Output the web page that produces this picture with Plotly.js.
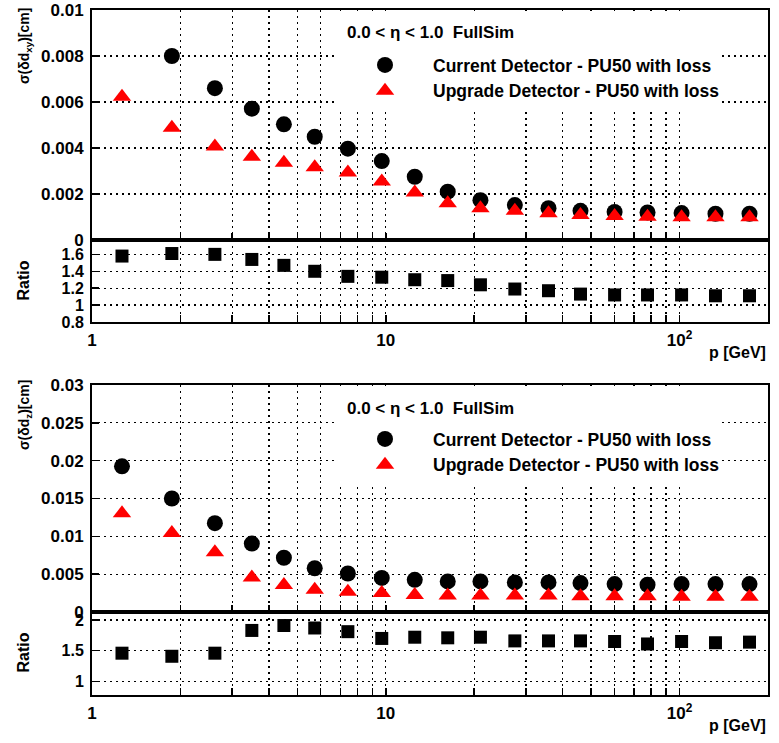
<!DOCTYPE html>
<html>
<head>
<meta charset="utf-8">
<script src="https://cdn.plot.ly/plotly-3.0.1.min.js"></script>
<style>html,body{margin:0;padding:0;background:#fff}#chart{width:779px;height:743px}</style>
</head>
<body>
<div id="chart"></div>
<script>
// ---- data ----
const p = [1.265, 1.87, 2.62, 3.50, 4.50, 5.73, 7.43, 9.69, 12.55, 16.25, 21.0, 27.5, 35.8, 46.0, 60.1, 77.8, 101.6, 132.5, 173];

const dxyCurrent = [null, 0.0080, 0.0066, 0.00571, 0.00503, 0.00449, 0.00397, 0.00343, 0.00275, 0.0021, 0.00173, 0.00152, 0.00138, 0.00127, 0.00122, 0.0012, 0.00117, 0.00114, 0.00114];
const dxyUpgrade = [0.00623, 0.00488, 0.00406, 0.00362, 0.00336, 0.00316, 0.00293, 0.00254, 0.00206, 0.0016, 0.00138, 0.00127, 0.00116, 0.00109, 0.00104, 0.00101, 0.00099, 0.00099, 0.00099];
const dxyRatio = [1.58, 1.61, 1.60, 1.54, 1.47, 1.40, 1.34, 1.33, 1.30, 1.29, 1.24, 1.19, 1.17, 1.13, 1.12, 1.12, 1.12, 1.11, 1.11];

const dzCurrent = [0.01925, 0.0150, 0.01174, 0.00904, 0.00717, 0.00578, 0.00509, 0.00450, 0.00425, 0.00404, 0.00404, 0.00391, 0.00391, 0.00382, 0.00369, 0.0036, 0.00369, 0.00369, 0.00369];
const dzUpgrade = [0.01304, 0.01043, 0.0079, 0.00456, 0.00356, 0.00295, 0.00269, 0.00252, 0.00226, 0.00217, 0.00217, 0.00217, 0.00217, 0.00209, 0.00209, 0.00209, 0.0020, 0.0020, 0.0020];
const dzRatio = [1.46, 1.41, 1.46, 1.83, 1.91, 1.87, 1.81, 1.70, 1.72, 1.71, 1.72, 1.66, 1.66, 1.66, 1.65, 1.61, 1.65, 1.63, 1.64];

const nameCurrent = "Current Detector - PU50 with loss";
const nameUpgrade = "Upgrade Detector - PU50 with loss";
const regionLabel = "0.0 < η < 1.0  FullSim";

const xGridVals = [1,2,3,4,5,6,7,8,9,10,20,30,40,50,60,70,80,90,100,200];
const xGridText = ["1","","","","","","","","","10","","","","","","","","","10<sup>2</sup>",""];
const yTopVals = [0, 0.002, 0.004, 0.006, 0.008, 0.01];
const yTopText = ["0", "0.002", "0.004", "0.006", "0.008", "0.01"];
const rTopVals = [0.8, 1, 1.2, 1.4, 1.6];
const rTopText = ["0.8", "1", "1.2", "1.4", "1.6"];
const yBotVals = [0, 0.005, 0.01, 0.015, 0.02, 0.025, 0.03];
const yBotText = ["0", "0.005", "0.01", "0.015", "0.02", "0.025", "0.03"];
const rBotVals = [1, 1.5, 2];
const rBotText = ["1", "1.5", "2"];

// ---- styling ----
const FONT = "Liberation Sans, Arial, sans-serif";
const tickFont = {family: FONT, size: 17, color: "#000", weight: "bold"};
const gridCommon = {
  showgrid: true, gridcolor: "#000", gridwidth: 1.3, griddash: "2px,4px",
  showline: true, linecolor: "#000", linewidth: 2, mirror: true,
  ticks: "inside", ticklen: 7, tickwidth: 1.5, tickcolor: "#000",
  zeroline: false, tickfont: tickFont
};
function xAxis(anchor, labels) {
  return Object.assign({}, gridCommon, {
    type: "log", range: [0, Math.log10(200)], anchor: anchor, domain: [0, 1],
    tickmode: "array", tickvals: xGridVals, ticktext: xGridText,
    showticklabels: labels, ticklabelstandoff: 2
  });
}
function yAxis(domain, range, vals, text, size) {
  return Object.assign({}, gridCommon, {
    domain: domain, range: range, tickmode: "array", tickvals: vals, ticktext: text,
    tickfont: Object.assign({}, tickFont, {size: size}), ticklabelstandoff: 3
  });
}

const circ = {symbol: "circle", size: 16, color: "#000"};
const tri = {symbol: "triangle-up", size: 16, color: "#ff0000"};
const sq = {symbol: "square", size: 13, color: "#000"};

const traces = [
  {x: p, y: dxyCurrent, type: "scatter", mode: "markers", name: nameCurrent, marker: circ, xaxis: "x", yaxis: "y", legend: "legend"},
  {x: p, y: dxyUpgrade, type: "scatter", mode: "markers", name: nameUpgrade, marker: tri, xaxis: "x", yaxis: "y", legend: "legend"},
  {x: p, y: dxyRatio, type: "scatter", mode: "markers", name: "Ratio", marker: sq, xaxis: "x2", yaxis: "y2", showlegend: false},
  {x: p, y: dzCurrent, type: "scatter", mode: "markers", name: nameCurrent, marker: circ, xaxis: "x3", yaxis: "y3", legend: "legend2"},
  {x: p, y: dzUpgrade, type: "scatter", mode: "markers", name: nameUpgrade, marker: tri, xaxis: "x3", yaxis: "y3", legend: "legend2"},
  {x: p, y: dzRatio, type: "scatter", mode: "markers", name: "Ratio", marker: sq, xaxis: "x4", yaxis: "y4", showlegend: false}
];

// plot area spans y = 10 .. 695 px
const py = v => (695 - v) / 685;
const px = v => (v - 92) / 676;

const legendCommon = {
  font: {family: FONT, size: 17.5, color: "#000", weight: "bold"},
  bgcolor: "rgba(0,0,0,0)", borderwidth: 0, xanchor: "left", yanchor: "top",
  itemwidth: 86, tracegroupgap: 0, traceorder: "normal", xref: "paper", yref: "paper"
};

const titleFont = {family: FONT, size: 14, color: "#000", weight: "bold"};
const labelFont = {family: FONT, size: 17, color: "#000", weight: "bold"};

const layout = {
  width: 779, height: 743,
  margin: {l: 92, r: 11, t: 10, b: 48},
  paper_bgcolor: "#fff", plot_bgcolor: "#fff",
  xaxis: xAxis("y", false),
  xaxis2: xAxis("y2", true),
  xaxis3: xAxis("y3", false),
  xaxis4: xAxis("y4", true),
  yaxis: yAxis([py(240), 1], [0, 0.01], yTopVals, yTopText, 17),
  yaxis2: yAxis([py(322), py(240)], [0.8, 1.77], rTopVals, rTopText, 16),
  yaxis3: yAxis([py(612), py(385)], [0, 0.03], yBotVals, yBotText, 17),
  yaxis4: yAxis([0, py(612)], [0.78, 2.13], rBotVals, rBotText, 16),
  legend: Object.assign({}, legendCommon, {x: px(337), y: py(47)}),
  legend2: Object.assign({}, legendCommon, {x: px(337), y: py(421)}),
  shapes: [
    {type: "rect", xref: "paper", yref: "paper", x0: px(335), x1: px(722), y0: py(112), y1: py(11), fillcolor: "#fff", line: {width: 0}, layer: "above"},
    {type: "rect", xref: "paper", yref: "paper", x0: px(335), x1: px(722), y0: py(485), y1: py(386), fillcolor: "#fff", line: {width: 0}, layer: "above"}
  ],
  annotations: [
    {text: regionLabel, xref: "paper", yref: "paper", x: px(345), y: py(32), xanchor: "left", yanchor: "middle", showarrow: false, font: labelFont},
    {text: regionLabel, xref: "paper", yref: "paper", x: px(345), y: py(408), xanchor: "left", yanchor: "middle", showarrow: false, font: labelFont},
    {text: "σ(δd<sub>xy</sub>)[cm]", xref: "paper", yref: "paper", x: px(14), y: py(6), xanchor: "left", yanchor: "top", textangle: -90, showarrow: false, font: titleFont},
    {text: "σ(δd<sub>z</sub>)[cm]", xref: "paper", yref: "paper", x: px(14), y: py(378), xanchor: "left", yanchor: "top", textangle: -90, showarrow: false, font: titleFont},
    {text: "Ratio", xref: "paper", yref: "paper", x: px(12), y: py(281), xanchor: "left", yanchor: "middle", textangle: -90, showarrow: false, font: {family: FONT, size: 16, color: "#000", weight: "bold"}},
    {text: "Ratio", xref: "paper", yref: "paper", x: px(12), y: py(653), xanchor: "left", yanchor: "middle", textangle: -90, showarrow: false, font: {family: FONT, size: 16, color: "#000", weight: "bold"}},
    {text: "p [GeV]", xref: "paper", yref: "paper", x: 1, y: py(352), xanchor: "right", yanchor: "middle", showarrow: false, font: {family: FONT, size: 16, color: "#000", weight: "bold"}},
    {text: "p [GeV]", xref: "paper", yref: "paper", x: 1, y: py(725), xanchor: "right", yanchor: "middle", showarrow: false, font: {family: FONT, size: 16, color: "#000", weight: "bold"}}
  ],
  showlegend: true
};

Plotly.newPlot("chart", traces, layout, {displayModeBar: false, staticPlot: true});
</script>
</body>
</html>
